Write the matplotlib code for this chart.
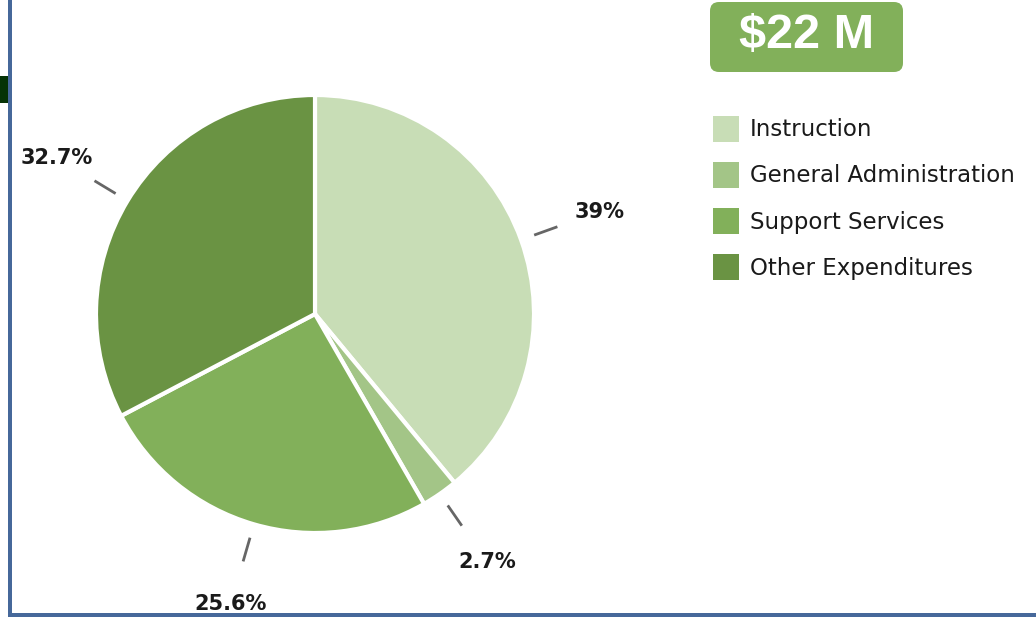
import numpy as np
import matplotlib
matplotlib.use("Agg")
import matplotlib.pyplot as plt
from matplotlib.patches import FancyBboxPatch, Rectangle
from matplotlib.lines import Line2D

categories = ["Instruction", "General Administration", "Support Services", "Other Expenditures"]
values = [39, 2.7, 25.6, 32.7]
labels = ["39%", "2.7%", "25.6%", "32.7%"]
colors = ["#c8ddb6", "#a3c587", "#82b05a", "#6a9343"]
total_label = "$22 M"

W, H = 1036, 618
fig = plt.figure(figsize=(W / 100, H / 100), dpi=100)
fig.patch.set_facecolor("white")

# Pie axes: center (315, 314) px, radius 219 px
cx, cy, r = 315, 314, 219
lim = 1.5
size = 2 * lim * r
ax = fig.add_axes([(cx - size / 2) / W, (H - cy - size / 2) / H, size / W, size / H])

wedges, _ = ax.pie(values, colors=colors, startangle=90, counterclock=False,
                   radius=1, wedgeprops=dict(edgecolor="white", linewidth=3))
ax.set_xlim(-lim, lim)
ax.set_ylim(-lim, lim)
ax.set_aspect("equal")
ax.axis("off")
for w, lab in zip(wedges, labels):
    ang = np.deg2rad((w.theta1 + w.theta2) / 2)
    c, s = np.cos(ang), np.sin(ang)
    ax.add_line(Line2D([1.07 * c, 1.17 * c], [1.07 * s, 1.17 * s], color="#666666", lw=2,
                       clip_on=False))
    ax.text(1.38 * c, 1.38 * s, lab, ha="center", va="center", fontsize=15,
            fontweight="bold", color="#1a1a1a", clip_on=False)

# Overlay axes in pixel coordinates for decorations
ov = fig.add_axes([0, 0, 1, 1])
ov.set_xlim(0, W)
ov.set_ylim(H, 0)
ov.axis("off")

# Borders
ov.add_patch(Rectangle((8, 0), 3.5, 616, color="#46689a", lw=0))
ov.add_patch(Rectangle((8, 612.5), W - 8, 4.5, color="#46689a", lw=0))
ov.add_patch(Rectangle((0, 76), 7.5, 27, color="#053305", lw=0))

# Title box
ov.add_patch(FancyBboxPatch((710, 2), 193, 70, boxstyle="round,pad=0,rounding_size=9",
                            facecolor="#82b05a", edgecolor="none"))
ov.text(807, 36, total_label, ha="center", va="center", fontsize=35, fontweight="bold",
        color="white", family="Liberation Sans")

# Legend
for i, (cat, col) in enumerate(zip(categories, colors)):
    y = 129 + 46 * i
    ov.add_patch(Rectangle((713, y - 13), 26, 26, facecolor=col, edgecolor="none"))
    ov.text(750, y + 1, cat, ha="left", va="center", fontsize=16.5, color="#1a1a1a")

fig.savefig("out.png", dpi=100)
